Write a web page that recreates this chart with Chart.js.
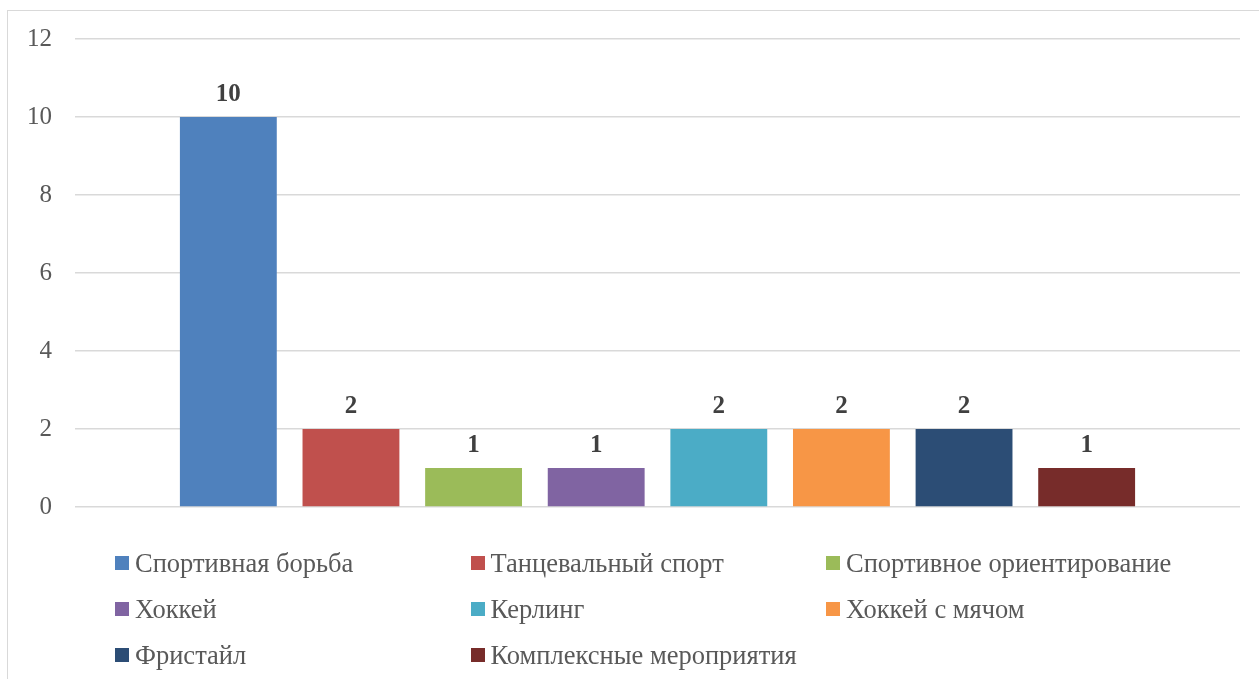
<!DOCTYPE html>
<html lang="ru">
<head>
<meta charset="utf-8">
<title>Виды спорта</title>
<script src="https://cdn.jsdelivr.net/npm/chart.js@4"></script>
<style>
	html, body {
		margin: 0;
		padding: 0;
		background: #ffffff;
		overflow: hidden;
	}
	#wrap {
		position: relative;
		width: 1259px;
		height: 679px;
	}
	#frame {
		position: absolute;
		left: 7px;
		top: 10px;
		width: 1260px;
		height: 700px;
		border: 1.5px solid #d9d9d9;
		box-sizing: border-box;
		pointer-events: none;
	}
	#chart {
		position: absolute;
		left: 0;
		top: 0;
	}
	#legend {
		position: absolute;
		left: 115px;
		top: 540px;
		display: grid;
		grid-template-columns: 355.5px 355.5px 400px;
		grid-auto-rows: 46px;
		font-family: "Liberation Serif", "Times New Roman", serif;
		font-size: 26.5px;
		color: #595959;
	}
	.item {
		display: flex;
		align-items: center;
		white-space: nowrap;
	}
	.box {
		width: 14px;
		height: 14px;
		margin-right: 6px;
		flex: none;
	}
</style>
</head>
<body>
<div id="wrap">
	<canvas id="chart" width="1259" height="679"></canvas>
	<div id="frame"></div>
	<div id="legend"></div>
</div>
<script>
const categories = [""];
const seriesNames = [
	"Спортивная борьба",
	"Танцевальный спорт",
	"Спортивное ориентирование",
	"Хоккей",
	"Керлинг",
	"Хоккей с мячом",
	"Фристайл",
	"Комплексные мероприятия",
];
const seriesValues = [10, 2, 1, 1, 2, 2, 2, 1];
const seriesColors = [
	"#4f81bd",
	"#c0504d",
	"#9bbb59",
	"#8064a2",
	"#4bacc6",
	"#f79646",
	"#2c4d75",
	"#772c2a",
];
const yTicks = [0, 2, 4, 6, 8, 10, 12];

document.addEventListener("DOMContentLoaded", () => {
	const serif = "'Liberation Serif', 'Times New Roman', serif";

	// value labels above each bar
	const barLabels = {
		id: "barLabels",
		afterDatasetsDraw(chart) {
			const ctx = chart.ctx;
			ctx.save();
			ctx.font = "bold 25px " + serif;
			ctx.fillStyle = "#404040";
			ctx.textAlign = "center";
			ctx.textBaseline = "alphabetic";
			chart.data.datasets.forEach((ds, i) => {
				const meta = chart.getDatasetMeta(i);
				meta.data.forEach((bar, j) => {
					ctx.fillText(String(ds.data[j]), bar.x, bar.y - 16);
				});
			});
			ctx.restore();
		},
	};

	const datasets = seriesNames.map((name, i) => ({
		label: name,
		data: [seriesValues[i]],
		backgroundColor: seriesColors[i],
		borderWidth: 0,
		categoryPercentage: 0.842,
		barPercentage: 0.79,
	}));

	new Chart(document.getElementById("chart"), {
		type: "bar",
		data: {
			labels: categories,
			datasets: datasets,
		},
		options: {
			responsive: false,
			animation: false,
			layout: {
				padding: { left: 0, top: 39, right: 19, bottom: 172 },
			},
			plugins: {
				legend: { display: false },
				tooltip: { enabled: false },
			},
			scales: {
				x: {
					display: false,
				},
				y: {
					min: yTicks[0],
					max: yTicks[yTicks.length - 1],
					afterBuildTicks: (scale) => {
						scale.ticks = yTicks.map((v) => ({ value: v }));
					},
					afterFit: (scale) => {
						scale.width = 75;
					},
					border: { display: false },
					grid: {
						color: "#d9d9d9",
						lineWidth: 1.5,
						drawTicks: false,
					},
					ticks: {
						padding: 23,
						color: "#595959",
						font: { family: serif, size: 25 },
					},
				},
			},
		},
		plugins: [barLabels],
	});

	const legend = document.getElementById("legend");
	legend.innerHTML = seriesNames
		.map(
			(name, i) =>
				`<div class="item"><span class="box" style="background:${seriesColors[i]}"></span>${name}</div>`
		)
		.join("");
});
</script>
</body>
</html>
